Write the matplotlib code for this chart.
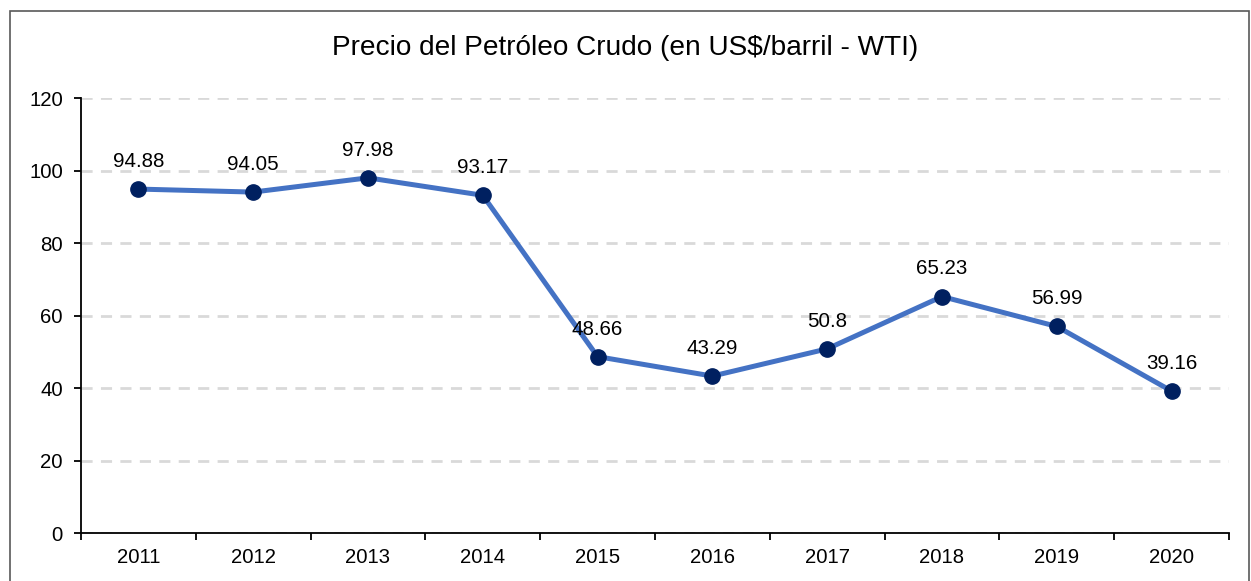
import matplotlib
matplotlib.use("Agg")
import matplotlib.pyplot as plt
from matplotlib.patches import Rectangle

years = ['2011', '2012', '2013', '2014', '2015', '2016', '2017', '2018', '2019', '2020']
precio = [94.88, 94.05, 97.98, 93.17, 48.66, 43.29, 50.8, 65.23, 56.99, 39.16]
etiquetas = ['94.88', '94.05', '97.98', '93.17', '48.66', '43.29', '50.8', '65.23', '56.99', '39.16']

plt.rcParams['font.family'] = ['Liberation Sans', 'DejaVu Sans']

fig = plt.figure(figsize=(12.51, 5.81), dpi=100)
ax = fig.add_axes([0.0647, 0.0826, 0.9177, 0.7487])

x = list(range(len(years)))
ax.plot(x, precio, color='#4472C4', linewidth=3.6, marker='o', markersize=11,
        markerfacecolor='#002060', markeredgecolor='#002060', zorder=3)

for xi, yi, lab in zip(x, precio, etiquetas):
    ax.annotate(lab, (xi, yi), xytext=(0, 13), textcoords='offset points',
                ha='center', va='bottom', fontsize=14.8, color='black')

ax.set_xlim(-0.5, len(years) - 0.5)
ax.set_ylim(0, 120)
ax.set_yticks(range(0, 121, 20))
ax.set_xticks(x)
ax.set_xticklabels(years)
ax.set_xticks([i - 0.5 for i in range(len(years) + 1)], minor=True)
ax.tick_params(axis='x', which='major', length=0, labelsize=14.6, pad=11)
ax.tick_params(axis='x', which='minor', length=5, width=1.3, direction='out')
ax.tick_params(axis='y', length=5, width=1.3, labelsize=14.7, pad=8)

ax.grid(axis='y', color='#D9D9D9', linestyle=(0, (4, 3)), linewidth=2, zorder=0)
ax.set_axisbelow(True)
for s in ['top', 'right']:
    ax.spines[s].set_visible(False)
for s in ['left', 'bottom']:
    ax.spines[s].set_linewidth(1.3)

fig.text(0.5, 0.918, 'Precio del Petróleo Crudo (en US$/barril - WTI)',
         ha='center', va='center', fontsize=20.2)

fig.patches.append(Rectangle((10 / 1251, -0.01), 1239 / 1251, 1 - 11 / 581 + 0.01,
                             transform=fig.transFigure, fill=False,
                             edgecolor='#595959', linewidth=1.2))

fig.savefig('out.png', dpi=100)
